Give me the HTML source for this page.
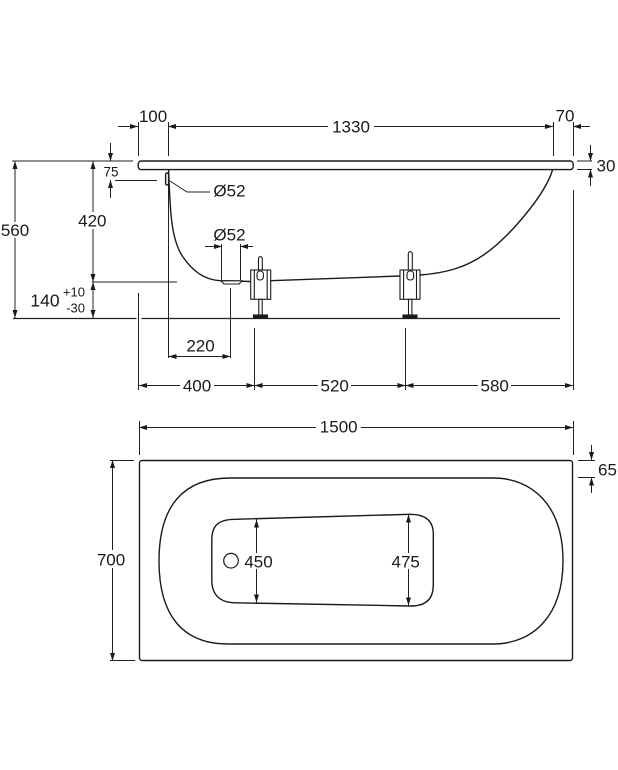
<!DOCTYPE html>
<html><head><meta charset="utf-8"><style>
html,body{margin:0;padding:0;background:#fff;}
svg{display:block;}
text{font-family:"Liberation Sans",Arial,sans-serif;font-size:17px;fill:#1a1a1a;}
</style></head><body>
<svg width="618" height="770" viewBox="0 0 618 770" xmlns="http://www.w3.org/2000/svg">
<rect x="0" y="0" width="618" height="770" fill="#fff"/>

<!-- dimension & extension lines -->
<g stroke="#222" stroke-width="1" fill="none">
  <path d="M118,126.5 H138 M168,126.5 H553 M573,126.5 H590"/>
  <path d="M138.5,122 V156 M168.5,122 V156 M553.5,122 V156 M573.5,122 V156"/>
  <path d="M590.5,145 V161 M590.5,186 V169.5 M577,161 H592 M577,169.5 H592"/>
  <path d="M15,161 V318 M12,161 H133"/>
  <path d="M93,161 V318 M92,282 H177"/>
  <path d="M110.5,143 V161 M110.5,198 V180 M115,180.5 H157"/>
  <path d="M138.5,293 V390 M168.5,172 V358"/>
  <path d="M205,246.5 H222 M253,246.5 H240 M221.5,244 V280 M240.5,244 V280"/>
  <path d="M230.5,288 V358 M168.5,356.5 H230.5"/>
  <path d="M139,385.5 H573 M254.5,328 V390 M405.5,328 V390 M573.5,190 V390"/>
  <path d="M139,427.5 H573 M139.5,421 V455 M573.5,421 V455"/>
  <path d="M112.5,460 V661 M110,460.5 H134 M110,660.5 H135"/>
  <path d="M591.5,445 V460 M591.5,493 V477.5 M578,460.5 H595 M578,477.5 H595"/>
  <path d="M256.5,519.5 V602.5 M408.5,514.5 V605.5"/>
  <path d="M170,181 L187,192 H210"/>
</g>
<g stroke="#222" stroke-width="1.3" fill="none">
  <path d="M13,318.5 H136.5 M141.5,318.5 H560"/>
</g>

<!-- arrowheads -->
<g fill="#1a1a1a" stroke="none">
  <polygon points="138,126.5 130,124 130,129"/>
  <polygon points="168,126.5 176,124 176,129"/>
  <polygon points="553,126.5 545,124 545,129"/>
  <polygon points="573,126.5 581,124 581,129"/>
  <polygon points="590.5,161 588,153 593,153"/>
  <polygon points="590.5,169.5 588,177.5 593,177.5"/>
  <polygon points="15,161 12.5,169 17.5,169"/>
  <polygon points="15,318 12.5,310 17.5,310"/>
  <polygon points="93,161 90.5,169 95.5,169"/>
  <polygon points="93,282 90.5,274 95.5,274"/>
  <polygon points="93,282 90.5,290 95.5,290"/>
  <polygon points="93,318 90.5,310 95.5,310"/>
  <polygon points="110.5,161 108,153 113,153"/>
  <polygon points="110.5,180 108,188 113,188"/>
  <polygon points="222,246.5 214,244 214,249"/>
  <polygon points="240,246.5 248,244 248,249"/>
  <polygon points="168.5,356.5 176.5,354 176.5,359"/>
  <polygon points="230.5,356.5 222.5,354 222.5,359"/>
  <polygon points="139,385.5 147,383 147,388"/>
  <polygon points="254.5,385.5 246.5,383 246.5,388"/>
  <polygon points="254.5,385.5 262.5,383 262.5,388"/>
  <polygon points="405.5,385.5 397.5,383 397.5,388"/>
  <polygon points="405.5,385.5 413.5,383 413.5,388"/>
  <polygon points="573,385.5 565,383 565,388"/>
  <polygon points="139,427.5 147,425 147,430"/>
  <polygon points="573,427.5 565,425 565,430"/>
  <polygon points="112.5,460 110,468 115,468"/>
  <polygon points="112.5,661 110,653 115,653"/>
  <polygon points="591.5,460 589,452 594,452"/>
  <polygon points="591.5,477.5 589,485.5 594,485.5"/>
  <polygon points="256.5,519.5 254,527.5 259,527.5"/>
  <polygon points="256.5,602.5 254,594.5 259,594.5"/>
  <polygon points="408.5,514.5 406,522.5 411,522.5"/>
  <polygon points="408.5,605.5 406,597.5 411,597.5"/>
</g>

<!-- side view tub -->
<g stroke="#1a1a1a" stroke-width="1.4" fill="none">
  <rect x="138.2" y="161" width="435" height="8.6" rx="3" fill="#fff"/>
  <rect x="165.6" y="173" width="3" height="12" rx="1.5" fill="#fff"/>
  <path d="M168.6,170 C170,210 171,240 183,257 C192,270 203,279.5 220,280.7 L251,281.5"/>
  <path d="M270.5,280.7 L400,276"/>
  <path d="M420.5,275 C445,273 465,268 485,254 C510,236 545,195 552.5,170"/>
  <polygon points="221,280.8 224,284 239,284 242,280.8" fill="#fff" stroke-width="1.1"/>
</g>

<!-- feet -->
<g stroke="#1a1a1a" stroke-width="1.1" fill="#fff">
  <rect x="258.5" y="256.7" width="3.8" height="16" rx="1.9"/>
  <rect x="250.7" y="270" width="20" height="29.3"/>
  <path d="M254.3,270 V299.3 M267.2,270 V299.3" fill="none"/>
  <rect x="257" y="271" width="6.4" height="9" rx="3"/>
  <rect x="258.8" y="299.3" width="3.4" height="15.7"/>
  <rect x="253.5" y="315" width="14" height="3" fill="#1a1a1a"/>

  <rect x="408.3" y="251.7" width="4" height="20" rx="2"/>
  <rect x="400" y="270" width="20" height="29.3"/>
  <path d="M403.6,270 V299.3 M416.5,270 V299.3" fill="none"/>
  <rect x="407" y="271" width="6.6" height="9" rx="3"/>
  <rect x="408.5" y="299.3" width="3.4" height="15.7"/>
  <rect x="403" y="315" width="14" height="3" fill="#1a1a1a"/>
</g>

<!-- top view -->
<g stroke="#1a1a1a" stroke-width="1.4" fill="none">
  <rect x="139.5" y="460.5" width="433" height="200" rx="2.5"/>
  <path d="M230,478 L493,478 C532,478 563,505 563,561 C563,617 532,644 493,644 L228,644 C184,644 159,617 159,561 C159,505 184,478 230,478 Z"/>
  <path d="M235,519.3 L410,514.3 C426,514.3 433.3,521 433.3,534 L433.3,585 C433.3,599 426,606 411,606 L236,602.8 C220,602.8 211.8,595 211.8,580 L211.8,540 C211.8,526 218,519.3 235,519.3 Z"/>
  <circle cx="231" cy="560.7" r="7.3" stroke-width="1.2"/>
</g>

<!-- text backgrounds -->
<g fill="#fff">
  <rect x="328" y="119" width="46" height="15"/>
  <rect x="0" y="222" width="31" height="16"/>
  <rect x="76" y="212" width="33" height="17"/>
  <rect x="180" y="377" width="34" height="16"/>
  <rect x="318" y="377" width="33" height="16"/>
  <rect x="478" y="377" width="33" height="16"/>
  <rect x="316" y="418" width="45" height="16"/>
  <rect x="95" y="550" width="32" height="18"/>
  <rect x="243" y="553" width="31" height="16"/>
  <rect x="389" y="553" width="33" height="16"/>
</g>

<!-- labels -->
<g text-anchor="middle">
  <text x="153" y="122">100</text>
  <text x="351" y="132.5">1330</text>
  <text x="565" y="121.5">70</text>
  <text x="606" y="171.5">30</text>
  <text x="15" y="236">560</text>
  <text x="92.3" y="226.7">420</text>
  <text x="111" y="176.7" style="font-size:13.5px">75</text>
  <text x="229.5" y="196.7">Ø52</text>
  <text x="229.5" y="240.7">Ø52</text>
  <text x="45" y="306.7" style="font-size:17.5px">140</text>
  <text x="85" y="296.7" text-anchor="end" style="font-size:13px">+10</text>
  <text x="85" y="312.3" text-anchor="end" style="font-size:13px">-30</text>
  <text x="200.5" y="351.7">220</text>
  <text x="197" y="391.7">400</text>
  <text x="334.7" y="391.7">520</text>
  <text x="494.7" y="391.7">580</text>
  <text x="338.7" y="432.3">1500</text>
  <text x="111" y="565.7">700</text>
  <text x="607.5" y="475.7">65</text>
  <text x="258.5" y="567.7">450</text>
  <text x="405.7" y="567.7">475</text>
</g>
</svg>
</body></html>
